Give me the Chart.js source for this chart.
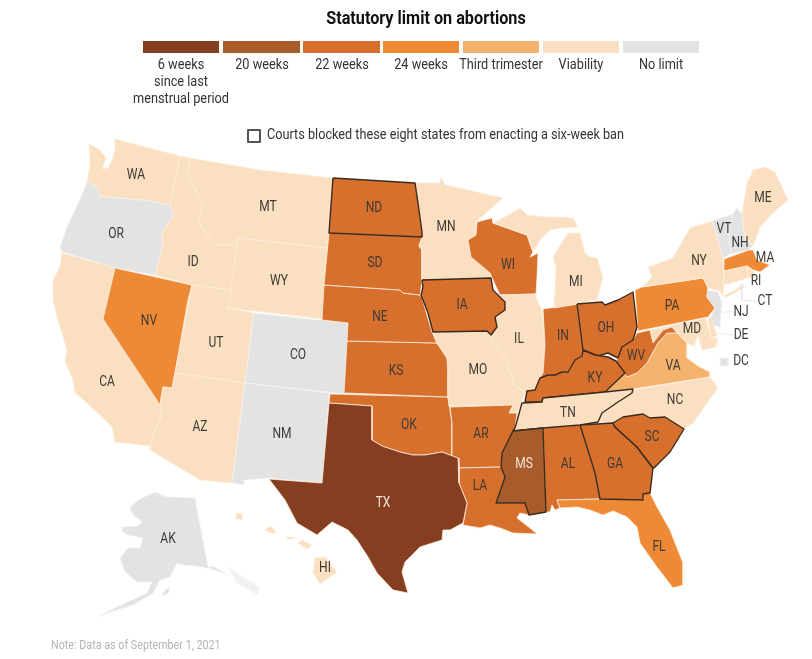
<!DOCTYPE html>
<html>
<head>
<meta charset="utf-8">
<script src="https://cdn.jsdelivr.net/npm/chart.js@4/dist/chart.umd.js"></script>
<style>
    body { margin: 0; background: #fff; font-family: Roboto, sans-serif; color: #333; }
    #wrap { position: relative; width: 812px; height: 659px; overflow: hidden; }
    #map { position: absolute; left: 0; top: 0; }
    .txt { position: absolute; white-space: nowrap; }
    .title { left: 226px; width: 400px; top: 7px; text-align: center; font-size: 18px; font-weight: bold; color: #111; transform: scaleX(0.9); }
    .swatch { position: absolute; top: 41px; height: 12px; }
    .leg { position: absolute; top: 56px; width: 110px; text-align: center; font-size: 14px; line-height: 17px; color: #333; transform: scaleX(0.91); }
    .box { position: absolute; left: 247px; top: 129px; width: 10px; height: 10px; border: 2px solid #555; border-radius: 1px; }
    .blocked { left: 267px; top: 126px; font-size: 14.5px; transform: scaleX(0.875); transform-origin: left center; }
    .note { left: 51px; top: 637px; font-size: 12.5px; color: #b4b4b4; transform: scaleX(0.86); transform-origin: left center; }
</style>
</head>
<body>
<div id="wrap">
    <canvas id="map" width="812" height="659"></canvas>
    <div class="txt title">Statutory limit on abortions</div>
    <div id="legend"></div>
    <div class="box"></div>
    <div class="txt blocked">Courts blocked these eight states from enacting a six-week ban</div>
    <div class="txt note">Note: Data as of September 1, 2021</div>
</div>
<script>
const limits = {
    six: { color: "#853f20", text: "6 weeks<br>since last<br>menstrual period", x: 143, w: 76 },
    w20: { color: "#a85b2b", text: "20 weeks", x: 223, w: 77 },
    w22: { color: "#d8702d", text: "22 weeks", x: 303, w: 77 },
    w24: { color: "#ee8a35", text: "24 weeks", x: 383, w: 76 },
    third: { color: "#f5b26c", text: "Third trimester", x: 463, w: 76 },
    viab: { color: "#fbdfc1", text: "Viability", x: 543, w: 76 },
    none: { color: "#e3e3e3", text: "No limit", x: 623, w: 76 },
};

// outlines, in picture units
const states = [
    { id: "WA", limit: "viab", label: [136, 175], rings: [[[115,139],[180,156],[170,205],[150,201],[120,198],[100,197],[97,187],[87,182],[90,165],[89,144],[100,150],[106,158],[102,169],[108,168],[113,158],[115,148]]] },
    { id: "OR", limit: "none", label: [116, 234], rings: [[[87,182],[97,187],[100,197],[120,198],[150,201],[170,205],[174,215],[162,233],[163,245],[155,275],[115,268],[62,252],[60,247],[67,227],[75,210],[82,195]]] },
    { id: "CA", limit: "viab", label: [107, 382], rings: [[[62,253],[115,268],[103,319],[160,405],[162,415],[153,435],[150,446],[115,442],[112,427],[102,417],[87,403],[75,393],[73,380],[65,362],[67,350],[63,337],[57,317],[53,300],[53,280],[60,267]]] },
    { id: "NV", limit: "w24", label: [149, 321], rings: [[[115,268],[192,285],[188,300],[175,373],[172,388],[163,387],[160,405],[103,319]]] },
    { id: "ID", limit: "viab", label: [193, 262], rings: [[[180,156],[190,158],[188,173],[203,205],[198,220],[213,245],[235,245],[238,238],[232,290],[192,285],[155,275],[163,245],[162,233],[174,215],[170,205]]] },
    { id: "MT", limit: "viab", label: [268, 207], rings: [[[190,158],[260,170],[333,178],[329,232],[327,248],[238,238],[235,245],[213,245],[198,220],[203,205],[188,173]]] },
    { id: "WY", limit: "viab", label: [279, 281], rings: [[[238,238],[327,248],[323,319],[228,308]]] },
    { id: "UT", limit: "viab", label: [216, 343], rings: [[[192,285],[232,290],[228,308],[254,313],[245,383],[175,373]]] },
    { id: "CO", limit: "none", label: [298, 355], rings: [[[254,313],[348,323],[344,394],[245,383]]] },
    { id: "AZ", limit: "viab", label: [200, 427], rings: [[[175,373],[245,383],[232,483],[200,480],[150,450],[150,446],[153,435],[162,415],[160,405],[163,387],[172,388]]] },
    { id: "NM", limit: "none", label: [282, 434], rings: [[[245,383],[329,393],[323,483],[269,478],[244,480],[244,485],[232,483]]] },
    { id: "OK", limit: "w22", label: [409, 425], rings: [[[330,394],[448,397],[452,423],[452,456],[458,458],[442,452],[425,455],[413,455],[400,452],[382,446],[372,440],[372,406],[329,403]]] },
    { id: "KS", limit: "w22", label: [396, 371], rings: [[[347,341],[437,343],[447,358],[448,370],[448,397],[344,393]]] },
    { id: "NE", limit: "w22", label: [380, 317], rings: [[[324,285],[400,290],[403,293],[420,295],[422,298],[432,332],[437,343],[347,341],[348,323],[322,320]]] },
    { id: "SD", limit: "w22", label: [375, 263], rings: [[[329,233],[422,237],[419,246],[422,250],[422,282],[420,295],[403,293],[400,290],[324,285]]] },
    { id: "MN", limit: "viab", label: [446, 227], rings: [[[415,183],[440,183],[441,177],[445,185],[460,188],[477,192],[503,198],[480,218],[476,222],[476,235],[468,240],[471,257],[490,273],[491,278],[422,280],[422,250],[419,246],[422,237],[422,232],[418,203]]] },
    { id: "WI", limit: "w22", label: [508, 265], rings: [[[477,222],[492,218],[493,223],[527,235],[533,252],[530,257],[538,253],[537,277],[536,294],[500,295],[493,280],[490,273],[471,257],[468,240],[476,235]]] },
    { id: "IL", limit: "viab", label: [519, 339], rings: [[[500,295],[536,294],[537,300],[542,310],[545,345],[543,373],[540,378],[535,390],[527,391],[525,393],[515,385],[510,372],[506,358],[492,343],[491,335],[497,327],[495,317],[505,310],[505,302]]] },
    { id: "MO", limit: "viab", label: [478, 370], rings: [[[433,332],[487,331],[491,335],[492,343],[506,358],[510,372],[515,385],[525,393],[522,402],[517,413],[509,413],[513,405],[449,406],[448,397],[448,370],[447,358],[437,343]]] },
    { id: "AR", limit: "w22", label: [481, 434], rings: [[[450,407],[513,405],[509,413],[517,413],[515,428],[502,453],[501,467],[459,468],[458,458],[452,456],[452,423]]] },
    { id: "LA", limit: "w22", label: [480, 486], rings: [[[459,468],[501,467],[505,477],[496,503],[525,503],[529,515],[520,513],[517,518],[530,528],[537,534],[513,533],[500,528],[490,525],[480,528],[463,525],[467,503],[459,483]]] },
    { id: "AL", limit: "w22", label: [568, 464], rings: [[[543,428],[580,425],[595,473],[600,499],[557,500],[560,508],[555,510],[552,505],[550,512],[546,512]]] },
    { id: "FL", limit: "w24", label: [659, 547], rings: [[[557,500],[600,499],[643,500],[643,494],[650,493],[657,507],[670,530],[683,563],[683,585],[673,588],[657,567],[640,543],[637,527],[627,517],[613,511],[603,515],[590,510],[577,507],[560,508]]] },
    { id: "IN", limit: "w22", label: [563, 336], rings: [[[543,309],[577,304],[583,350],[582,356],[575,360],[568,372],[562,372],[555,375],[548,375],[540,378],[543,373],[545,345]]] },
    { id: "MI", limit: "viab", label: [576, 282], rings: [[[554,308],[556,267],[553,257],[568,233],[580,233],[585,253],[590,257],[597,258],[603,277],[597,300],[577,304]], [[493,223],[503,218],[520,208],[527,215],[547,217],[560,217],[573,218],[578,227],[560,228],[550,230],[540,240],[533,252],[527,235]]] },
    { id: "PA", limit: "w24", label: [672, 306], rings: [[[635,290],[642,287],[703,278],[708,287],[707,297],[715,308],[708,317],[638,331]]] },
    { id: "NY", limit: "viab", label: [699, 261], rings: [[[642,287],[652,277],[648,267],[673,258],[683,240],[690,228],[712,221],[717,235],[723,258],[724,285],[723,297],[720,291],[708,288],[703,278]], [[724,296],[743,285],[745,287],[727,297]]] },
    { id: "VT", limit: "none", label: [724, 229], rings: [[[712,221],[733,214],[729,232],[731,254],[723,258],[717,235]]] },
    { id: "NH", limit: "none", label: [740, 243], rings: [[[733,214],[737,208],[742,214],[745,237],[753,246],[749,250],[731,254],[729,232]]] },
    { id: "ME", limit: "viab", label: [763, 198], rings: [[[742,214],[747,183],[750,177],[753,170],[765,167],[775,172],[782,187],[788,200],[773,213],[760,227],[753,246],[745,237]]] },
    { id: "MA", limit: "w24", label: [765, 258], rings: [[[724,259],[749,250],[753,250],[757,260],[770,265],[760,272],[753,270],[747,266],[724,271]]] },
    { id: "CT", limit: "viab", label: [765, 301], rings: [[[724,271],[747,266],[748,278],[724,285]]] },
    { id: "RI", limit: "viab", label: [756, 281], rings: [[[747,266],[753,270],[755,277],[748,278]]] },
    { id: "NJ", limit: "none", label: [741, 312], rings: [[[708,290],[718,292],[722,303],[720,327],[708,323],[715,308],[707,297]]] },
    { id: "DE", limit: "viab", label: [741, 335], rings: [[[708,317],[711,317],[717,336],[711,338]]] },
    { id: "MD", limit: "viab", label: [692, 329], rings: [[[650,330],[706,318],[711,338],[718,338],[716,347],[702,350],[698,335],[694,346],[687,343],[677,333],[672,327],[663,330],[653,343]]] },
    { id: "DC", limit: "none", label: [741, 361], rings: [[[720,358],[728,358],[728,366],[720,366]]] },
    { id: "VA", limit: "third", label: [673, 366], rings: [[[677,333],[687,343],[687,358],[698,366],[710,372],[710,377],[633,389],[605,392],[625,373],[627,377],[637,373],[647,363],[653,352],[658,343],[667,333]]] },
    { id: "WV", limit: "w22", label: [636, 356], rings: [[[618,358],[622,347],[633,340],[637,333],[650,330],[653,343],[663,330],[672,327],[677,333],[667,333],[658,343],[653,352],[647,363],[637,373],[627,377],[616,362]]] },
    { id: "NC", limit: "viab", label: [675, 400], rings: [[[598,422],[602,413],[618,402],[633,390],[710,377],[718,388],[707,403],[693,423],[684,429],[665,417],[650,418],[643,414],[623,417],[613,423]]] },
    { id: "AK", limit: "none", label: [168, 539], rings: [[[130,507],[140,499],[155,492],[167,497],[195,498],[208,567],[213,566],[227,575],[212,569],[195,566],[183,565],[177,563],[170,577],[160,580],[153,593],[133,605],[117,610],[97,617],[115,608],[147,593],[152,582],[137,582],[125,572],[120,558],[128,548],[140,548],[143,538],[128,535],[122,531],[122,527],[138,526],[142,522],[133,515]], [[165,590],[170,587],[168,594],[162,596]]] },
    { id: "HI", limit: "viab", label: [325, 568], rings: [[[315,558],[325,557],[337,572],[320,584],[313,573]], [[302,540],[312,545],[307,549],[298,543]], [[268,527],[272,527],[276,533],[270,533],[265,530]], [[237,513],[243,514],[242,520],[235,518]], [[286,537],[296,537],[293,539],[287,539]]] },
    { id: "TX", limit: "six", light: true, label: [383, 503], rings: [[[329,403],[372,406],[372,440],[382,446],[400,452],[413,455],[425,455],[442,452],[458,458],[459,483],[467,503],[463,523],[450,530],[443,530],[442,540],[420,547],[405,562],[402,572],[408,593],[393,590],[377,573],[368,557],[357,540],[348,530],[332,522],[317,535],[297,523],[285,500],[269,479],[322,483]]] },
    // the eight blocked states get a dark outline
    { id: "ND", limit: "w22", blocked: true, label: [374, 208], rings: [[[333,178],[415,183],[418,203],[422,232],[422,237],[329,233]]] },
    { id: "IA", limit: "w22", blocked: true, label: [462, 305], rings: [[[422,280],[491,278],[493,290],[505,302],[505,310],[495,317],[497,327],[491,335],[487,331],[433,332],[428,313],[421,295],[423,287]]] },
    { id: "OH", limit: "w22", blocked: true, label: [606, 328], rings: [[[577,304],[602,302],[605,305],[618,300],[633,292],[637,327],[633,340],[622,347],[618,358],[608,353],[598,356],[588,352],[583,350]]] },
    { id: "KY", limit: "w22", blocked: true, label: [595, 378], rings: [[[525,402],[527,391],[535,390],[540,378],[548,375],[555,375],[562,372],[568,372],[575,360],[582,356],[583,350],[595,355],[608,357],[616,361],[625,373],[605,392],[543,398],[542,402]]] },
    { id: "TN", limit: "viab", blocked: true, label: [568, 413], rings: [[[515,428],[522,403],[542,402],[543,398],[605,392],[633,389],[632,393],[618,402],[602,413],[598,422],[580,425],[543,428],[513,431]]] },
    { id: "MS", limit: "w20", blocked: true, light: true, label: [524, 464], rings: [[[513,431],[543,428],[546,512],[529,515],[525,503],[496,503],[505,477],[501,467],[502,453]]] },
    { id: "GA", limit: "w22", blocked: true, label: [615, 464], rings: [[[580,425],[613,423],[615,427],[637,447],[653,468],[650,493],[643,494],[643,500],[600,499],[595,473]]] },
    { id: "SC", limit: "w22", blocked: true, label: [652, 437], rings: [[[613,423],[623,417],[643,414],[650,418],[665,417],[684,429],[670,452],[655,467],[653,468],[637,447],[615,427]]] },
];

// the alaskan panhandle is printed much fainter than the rest of the state
const panhandle = [[228,567],[260,588],[258,595],[237,583]];

const leaders = [
    [[742, 284], [742, 300], [756, 301]],
    [[722, 312], [733, 312]],
    [[717, 333], [733, 335]],
];

const legend = document.getElementById("legend");
for (const key in limits) {
    const l = limits[key];
    legend.innerHTML += `<div class="swatch" style="left:${l.x}px;width:${l.w}px;background:${l.color}"></div>`;
    legend.innerHTML += `<div class="leg" style="left:${l.x + l.w / 2 - 55}px">${l.text}</div>`;
}

const toPoints = ring => ring.map(p => ({ x: p[0], y: p[1] }));

const edgeColor = s => {
    if (s.blocked) return "#3b2a1e";
    return s.limit == "none" ? "#f2f2f2" : "#fdeedd";
};

const datasets = [];
for (const s of states) {
    for (const ring of s.rings) {
        datasets.push({
            label: s.id,
            data: toPoints(ring.concat([ring[0]])),
            showLine: true,
            fill: "shape",
            backgroundColor: limits[s.limit].color,
            borderColor: edgeColor(s),
            borderWidth: s.blocked ? 1.4 : 0.8,
            borderJoinStyle: "round",
            pointRadius: 0,
            tension: 0,
        });
    }
}
datasets.push({
    label: "AK",
    data: toPoints(panhandle.concat([panhandle[0]])),
    showLine: true,
    fill: "shape",
    backgroundColor: "#f1f1f1",
    borderColor: "#f6f6f6",
    borderWidth: 0.5,
    pointRadius: 0,
});
for (const line of leaders) {
    datasets.push({
        label: "leader",
        data: toPoints(line),
        showLine: true,
        borderColor: "#e6e9ee",
        borderWidth: 1,
        pointRadius: 0,
    });
}
// chart.js paints the first dataset last, so blocked states go to the front
datasets.reverse();

const stateLabels = {
    id: "stateLabels",
    afterDatasetsDraw(chart) {
        const ctx = chart.ctx;
        for (const s of states) {
            ctx.save();
            ctx.translate(chart.scales.x.getPixelForValue(s.label[0]), chart.scales.y.getPixelForValue(s.label[1]));
            ctx.scale(0.86, 1);
            ctx.font = "14px Roboto";
            ctx.textAlign = "center";
            ctx.textBaseline = "middle";
            ctx.fillStyle = s.light ? "#f3e4d8" : "#3f3a36";
            ctx.fillText(s.id, 0, 0);
            ctx.restore();
        }
    },
};

new Chart(document.getElementById("map"), {
    type: "scatter",
    data: { datasets: datasets },
    options: {
        responsive: false,
        animation: false,
        layout: { padding: 0 },
        plugins: { legend: { display: false }, tooltip: { enabled: false }, title: { display: false } },
        scales: {
            x: { type: "linear", display: false, min: 0, max: 812 },
            y: { type: "linear", display: false, min: 0, max: 659, reverse: true },
        },
    },
    plugins: [stateLabels],
});
</script>
</body>
</html>
